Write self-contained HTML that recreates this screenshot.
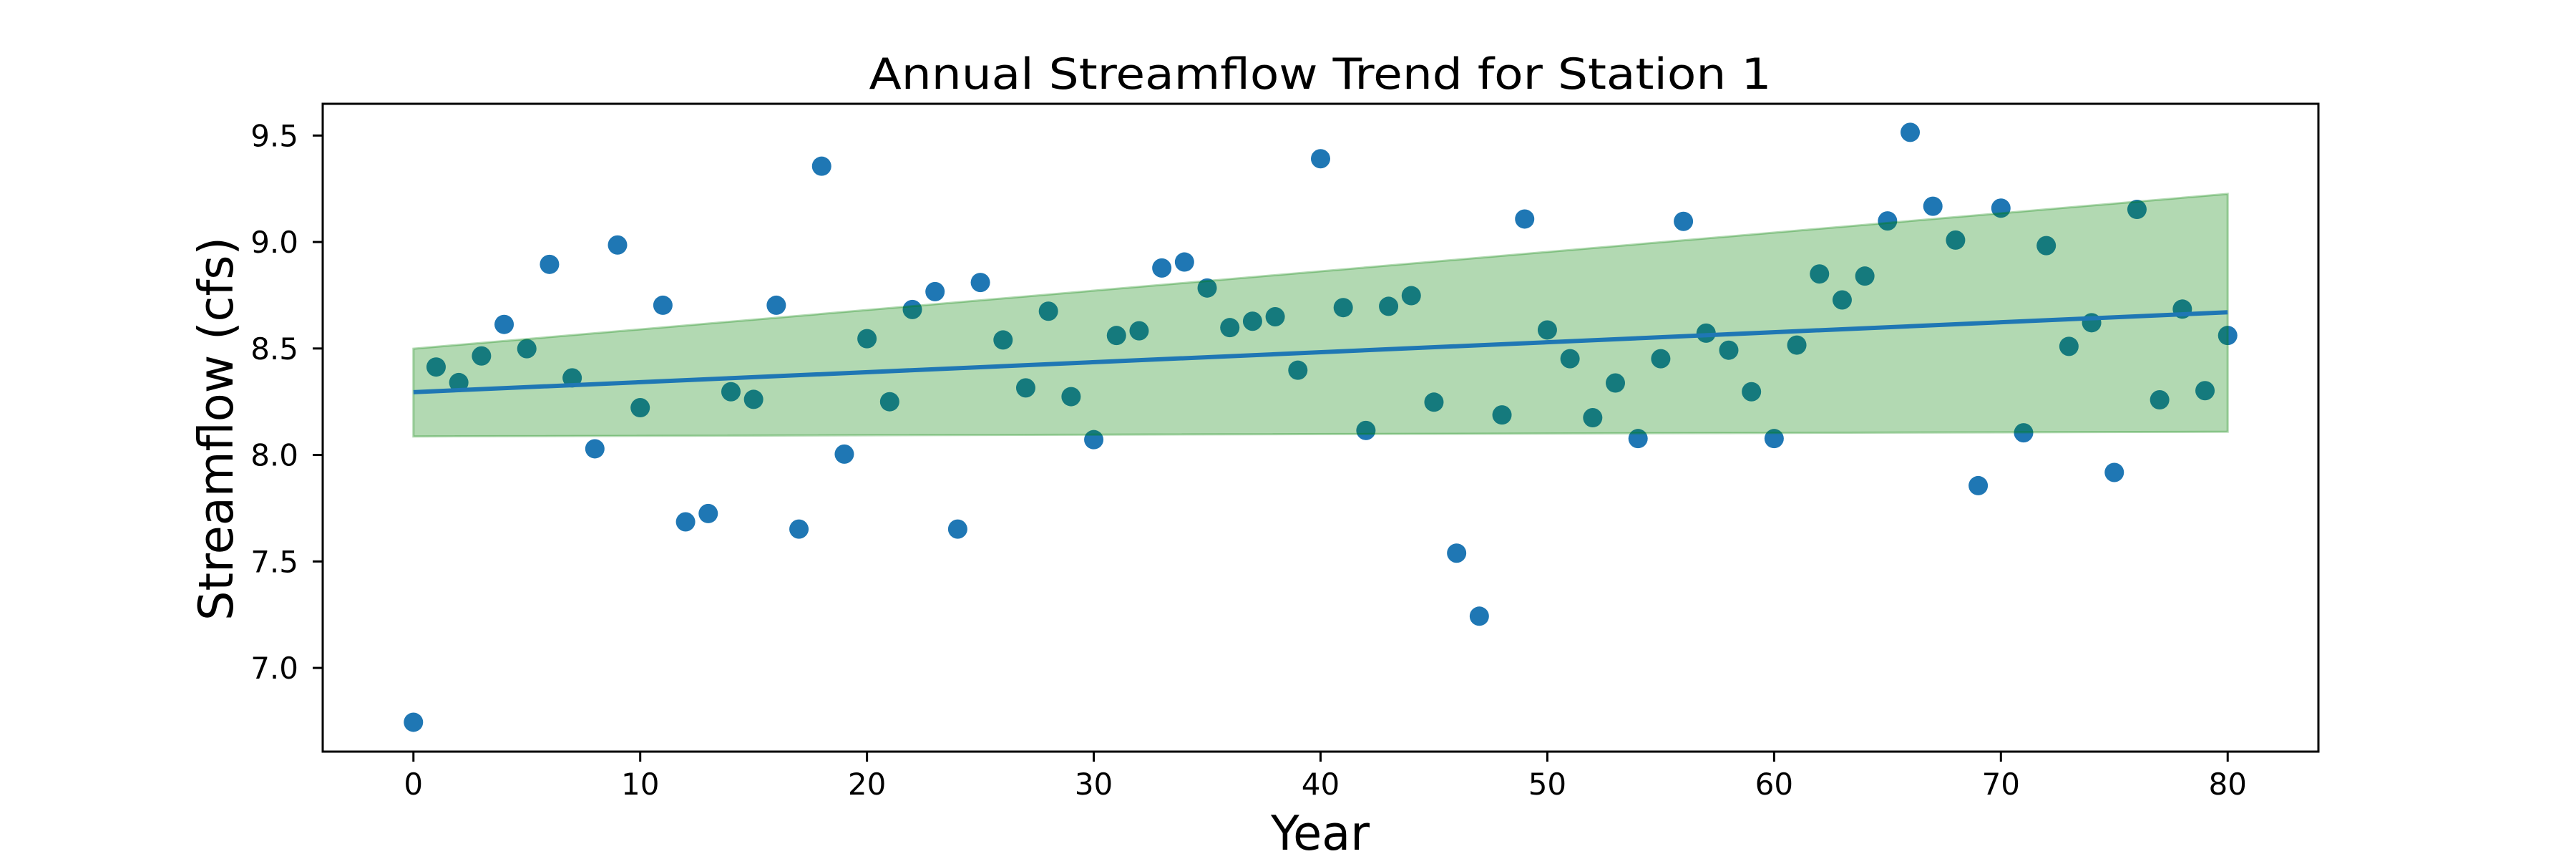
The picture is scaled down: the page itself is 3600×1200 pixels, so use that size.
<!DOCTYPE html>
<html><head><meta charset="utf-8"><style>
html,body{margin:0;padding:0;background:#fff;}
svg{display:block;font-family:"DejaVu Sans","Liberation Sans",sans-serif;}
</style></head><body>
<svg id="chart" width="3600" height="1200" viewBox="0 0 3600 1200" xmlns="http://www.w3.org/2000/svg">
<rect x="0" y="0" width="3600" height="1200" fill="#fff"/>
<g id="plot"></g>
<text x="1845" y="124" font-size="60" text-anchor="middle" textLength="1261" lengthAdjust="spacingAndGlyphs">Annual Streamflow Trend for Station 1</text>
<text x="1845" y="1187" font-size="67" text-anchor="middle" textLength="138" lengthAdjust="spacingAndGlyphs">Year</text>
<text transform="translate(325,599) rotate(-90)" font-size="67" text-anchor="middle" textLength="536" lengthAdjust="spacingAndGlyphs">Streamflow (cfs)</text>
</svg>
<script>
const years = [];
for (let i = 0; i <= 80; i++) years.push(i);
const flows = [6.745,8.413,8.340,8.465,8.613,8.499,8.895,8.362,8.029,8.986,
8.222,8.703,7.686,7.725,8.297,8.261,8.703,7.652,9.356,8.004,
8.546,8.250,8.683,8.767,7.652,8.810,8.540,8.315,8.675,8.274,
8.072,8.561,8.583,8.878,8.906,8.784,8.598,8.628,8.649,8.398,
9.391,8.692,8.115,8.698,8.748,8.248,7.539,7.243,8.188,9.108,
8.587,8.452,8.175,8.338,8.077,8.452,9.097,8.572,8.492,8.297,
8.077,8.516,8.850,8.728,8.840,9.099,9.515,9.168,9.009,7.856,
9.159,8.104,8.983,8.510,8.621,7.918,9.153,8.259,8.685,8.302,8.561];
const trendX = [0, 80];
const trendY = [8.295, 8.670];
const bandUpper = [8.499, 9.226];
const bandLower = [8.087, 8.109];
const xTicks = [0,10,20,30,40,50,60,70,80];
const yTicks = [7.0,7.5,8.0,8.5,9.0,9.5];
const yTickLabels = ["7.0","7.5","8.0","8.5","9.0","9.5"];

const L=451,R=3240,T=145,B=1050;
const xMin=-4,xMax=84,yMin=6.607,yMax=9.649;
function sx(v){return L+(v-xMin)/(xMax-xMin)*(R-L);}
function sy(v){return B-(v-yMin)/(yMax-yMin)*(B-T);}
const NS='http://www.w3.org/2000/svg';
const plot=document.getElementById('plot');
function mk(tag,attrs,parent){const e=document.createElementNS(NS,tag);for(const k in attrs)e.setAttribute(k,attrs[k]);(parent||plot).appendChild(e);return e;}

// points
flows.forEach((v,i)=>{
  const c=mk('circle',{cx:sx(years[i]),cy:sy(v),r:13.5,fill:'#1f77b4'});
  
  
});
// band
const pts=[[trendX[0],bandUpper[0]],[trendX[1],bandUpper[1]],[trendX[1],bandLower[1]],[trendX[0],bandLower[0]]]
  .map(p=>sx(p[0])+','+sy(p[1])).join(' ');
const band=mk('polygon',{points:pts,fill:'#008000','fill-opacity':0.3,stroke:'#008000','stroke-opacity':0.3,'stroke-width':3});


// trend
const tl=mk('line',{x1:sx(trendX[0]),y1:sy(trendY[0]),x2:sx(trendX[1]),y2:sy(trendY[1]),stroke:'#1f77b4','stroke-width':6});


// frame
const fr=mk('rect',{x:L,y:T,width:R-L,height:B-T,fill:'none',stroke:'#000','stroke-width':3});


// x ticks
xTicks.forEach(t=>{
  const x=sx(t);
  const tk=mk('line',{x1:x,y1:B,x2:x,y2:B+14,stroke:'#000','stroke-width':3});
  
  
  const lb=mk('text',{x:x,y:1110,'font-size':42,'text-anchor':'middle'});
  lb.textContent=String(t);
  
  
});
// y ticks
yTicks.forEach((t,i)=>{
  const y=sy(t);
  const tk=mk('line',{x1:L-14,y1:y,x2:L,y2:y,stroke:'#000','stroke-width':3});
  
  
  const lb=mk('text',{x:417,y:y+15,'font-size':42,'text-anchor':'end'});
  lb.textContent=yTickLabels[i];
  
  
});
</script>
</body></html>
